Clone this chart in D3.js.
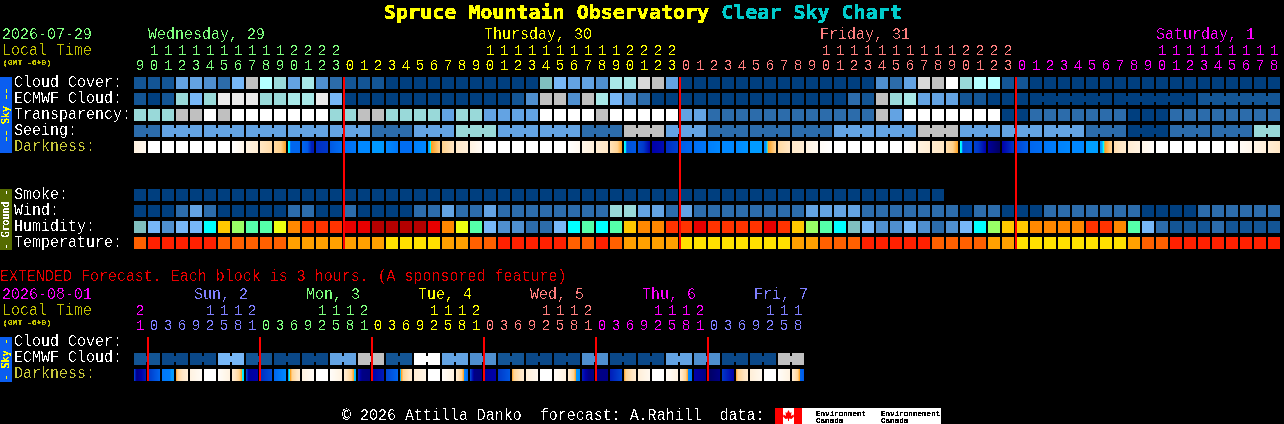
<!DOCTYPE html>
<html>
<head>
<meta charset="utf-8">
<title>Clear Sky Chart</title>
<script src="https://cdnjs.cloudflare.com/ajax/libs/d3/7.8.5/d3.min.js"></script>
<style>
    html, body { margin: 0; background: #000; overflow: hidden; }
    svg { display: block; }
    text { font-family: "Liberation Mono", monospace; font-size: 15px; white-space: pre; }
    rect, line { shape-rendering: crispEdges; }
</style>
</head>
<body>
<div id="chart"></div>
<script>
// Hourly forecast, one value per block
const hours = [9,10,11,12,13,14,15,16,17,18,19,20,21,22,23,
    0,1,2,3,4,5,6,7,8,9,10,11,12,13,14,15,16,17,18,19,20,21,22,23,
    0,1,2,3,4,5,6,7,8,9,10,11,12,13,14,15,16,17,18,19,20,21,22,23,
    0,1,2,3,4,5,6,7,8,9,10,11,12,13,14,15,16,17,18];
const cloudCover = [1,1,1,4,4,3,2,5,10,9,7,4,8,3,2,1,1,1,0,0,0,
    0,0,0,0,0,0,0,0,6,5,4,4,3,8,8,11,10,4,
    0,0,0,0,0,0,0,0,0,0,0,0,0,0,3,2,4,11,10,13,7,9,9,1,1,
    0,0,0,0,0,0,0,0,0,0,0,0,0,0,0,0,0,0];
const ecmwfCloud = [1,0,1,7,5,7,12,12,12,7,7,8,8,12,5,
    0,0,0,0,0,0,0,0,0,0,0,0,1,3,10,10,3,10,8,5,3,2,0,0,
    0,0,0,0,0,0,0,0,0,0,0,0,2,1,10,7,8,4,4,4,1,1,0,0,0,
    0,0,0,0,0,0,0,0,0,0,0,0,1,1,1,1,1,1];
const transparency = [7,7,7,10,10,13,10,13,13,13,13,13,13,13,7,7,10,10,7,7,7,
    7,4,7,7,4,4,4,4,13,13,13,13,10,13,13,13,13,13,4,4,
    2,2,2,2,2,2,2,2,2,2,2,2,10,4,13,13,13,13,13,13,13,0,0,
    2,2,2,2,2,2,2,0,0,0,2,2,2,2,2,2,2,2];
const seeing = [2,2,4,4,4,4,4,4,4,4,4,4,4,4,4,4,4,2,2,2,4,4,4,7,7,7,
    4,4,4,4,4,4,2,2,2,10,10,10,4,4,4,2,2,2,2,2,2,2,2,2,4,4,4,4,4,4,
    10,10,10,4,4,4,4,4,4,4,4,4,2,2,2,0,0,0,2,2,2,2,2,2,7,7];
const smoke = [0,0,0,0,0,0,0,0,0,0,0,0,0,0,0,0,0,0,0,0,0,0,0,0,0,0,0,0,0,
    0,0,0,0,0,0,0,0,0,0,0,0,0,0,0,0,0,0,0,0,0,0,0,0,0,0,0,0,0];
const wind = [0,0,0,2,4,2,0,0,0,0,0,2,2,0,0,2,0,0,0,0,2,
    2,4,2,2,4,2,2,2,2,2,2,2,2,7,7,4,4,2,4,2,2,2,2,2,2,2,2,4,4,4,4,
    2,2,2,2,2,2,2,0,2,2,0,0,0,2,2,2,2,2,2,2,0,0,0,0,2,2,2,2,2,2];
const humidity = [4,3,2,3,3,5,9,7,6,6,8,10,11,11,11,12,12,13,13,13,13,
    12,10,8,6,3,2,2,1,1,3,5,6,5,6,9,10,10,11,11,12,11,11,11,11,12,11,9,7,6,5,4,
    3,2,2,3,2,1,2,3,5,7,9,9,10,10,10,10,11,11,10,6,3,1,0,0,0,1,0,0,0,0];
const temperature = [1,0,0,0,0,0,1,1,1,1,1,2,2,2,2,2,2,2,3,3,3,
    3,2,2,1,1,0,0,0,0,0,1,1,0,1,2,2,2,2,3,3,3,3,3,3,3,3,2,2,1,1,1,
    0,0,0,0,0,1,1,1,1,2,2,3,3,3,3,3,3,3,3,2,1,1,0,0,0,0,0,0,0,0];

// Sun and moon curve for the darkness row: [block, level]
const darkness = [[0,1],[0.86,0.5],[1,0],[7,0],[7.86,0.7],[8,1],[8.86,1.5],[9,2],[9.86,2.5],[10,2.6],[10.5,3],[10.86,4],
    [11,5],[11.1,5],[11.2,8],[12,8],[12.4,8.3],[12.7,9.5],[12.86,9.5],[13,9.2],[13.86,9],[14,8.3],[14.86,7.8],
    [15,7.8],[15.86,7.5],[16,7],[16.86,7],[17,6.5],[17.86,6.5],[18,7],[18.86,7.5],[19,7.8],[19.86,7.8],[20,7.3],[20.86,7],
    [21,6.5],[21.1,6],[21.18,5],[21.25,4],[21.86,3],[22,3],[22.86,2],[23,1.8],[23.86,1.3],[24,1],[24.86,0.3],[25,0],
    [31,0],[31.86,0.5],[32,0.7],[32.86,1.2],[33,1.5],[33.86,2],[34,2.2],[34.5,2.8],[34.86,4],
    [35,5],[35.1,5],[35.2,8.5],[35.86,8.3],[36,8.6],[36.4,9],[36.86,10],[37,10],[37.86,9.8],[38,9.2],[38.86,8.8],
    [39,8.2],[39.86,8],[40,7.8],[40.86,7.5],[41,7.3],[41.86,7],[43,7],[43.86,6.6],[44,6.4],[44.86,6.4],
    [45,7],[45.15,6.5],[45.22,5],[45.3,4],[45.86,2.8],[46,2.6],[46.86,2],[47,1.8],[47.86,1.5],[48,1],[48.86,0.5],[49,0.3],[49.86,0],
    [55,0],[55.86,0.6],[56,1],[56.86,1.5],[57,1.6],[57.86,2],[58,2.4],[58.5,3],[58.86,4],
    [59,5],[59.1,5],[59.2,8.6],[59.86,8.4],[60,8.8],[60.3,9],[60.86,10],[61,10.2],[61.86,11],[62,10],[62.86,9],
    [63,8.7],[63.86,8.2],[64,8],[64.86,7.8],[65,7.6],[65.86,7.3],[66,7.2],[66.86,7],[67.86,7],[68,6.3],[68.86,6.3],
    [69,7],[69.15,6],[69.25,5],[69.35,4],[69.86,2.8],[70,2.4],[70.86,1.6],[71,1.5],[71.86,1],[72,0.7],[72.86,0.2],[73,0],
    [78.5,0],[79,0.3],[79.86,0.7],[80,0.8],[80.86,1.2],[81,1.4],[81.86,2]];

// Extended forecast, one value per 3 hour block
const extHours = [21,0,3,6,9,12,15,18,21,0,3,6,9,12,15,18,21,0,3,6,9,12,15,18,21,
    0,3,6,9,12,15,18,21,0,3,6,9,12,15,18,21,0,3,6,9,12,15,18];
const extEcmwf = [1,1,0.5,0.5,0.5,0.5,5,5,1,1,0.5,0.5,0.5,0.5,4,4,10,10,1,1,13,13,4,4,
    3,3,1,1,0.5,0.5,0.5,0.5,3,3,0.5,0.5,0.5,0.5,4,4,3,3,0.5,0.5,0.5,0.5,10,10];
const extDarkness = [[0,8.5],[0.2,10.5],[0.86,9.5],[1,9],[1.86,8],[2,7.5],[2.6,7.3],[2.62,6.4],[2.86,6.4],
    [3,4],[3.12,3],[3.3,2.3],[3.86,1.2],[4,1],[4.86,0.3],[5,0],[5.86,0],[6,0.2],[6.86,1],[7,1.5],[7.5,2.8],[7.7,4],[7.72,5],[7.86,5.5],
    [8,8.5],[8.2,10.2],[8.86,10],[9,9.2],[9.86,8.5],[10,8],[10.86,7],[11,7],[11.1,5],[11.18,4],[11.3,2.8],[11.86,1.5],
    [12,1],[12.86,0.3],[13,0],[13.86,0],[14,0.2],[14.86,1],[15,1.5],[15.5,2.8],[15.7,4],[15.72,5.5],[15.86,6],
    [16,9.5],[16.3,10.5],[16.86,10.6],[17,10],[17.86,9.5],[18,8.7],[18.86,8],[19,6.8],[19.1,4],[19.25,2.8],[19.86,1.6],
    [20,1.5],[20.86,0.8],[21,0],[21.86,0],[22,0.2],[22.86,1],[23,1.5],[23.4,2.8],[23.55,4],[23.6,7],[23.86,8],
    [24,8.5],[24.3,10.5],[24.86,10.6],[25,10.2],[25.86,10],[26,9],[26.86,8.3],[27,4],[27.15,2.8],[27.86,1.6],
    [28,1.3],[28.86,0.5],[29,0],[29.86,0],[30,0.2],[30.86,1],[31,1.5],[31.4,2.8],[31.55,4],[31.6,6.5],[31.86,7],
    [32,9.5],[32.5,10.5],[33.86,10.5],[34,9.5],[34.86,8.7],[35,4],[35.15,2.8],[35.86,1.6],
    [36,1.3],[36.86,0.5],[37,0],[37.86,0],[38,0.2],[38.86,1],[39,1.5],[39.4,2.8],[39.55,4],[39.6,7],[39.86,7.5],
    [40,10],[40.86,10.5],[41,11],[41.86,10.5],[42,9],[42.86,10],[43,4],[43.15,2.8],[43.86,1.6],
    [44,1.3],[44.86,0.5],[45,0],[45.86,0],[46,0.2],[46.86,1],[47,1.5],[47.4,2.8],[47.55,4],[47.6,8],[47.86,8.3]];

// Day headings
const dayLabels = ["Wednesday, 29", "Thursday, 30", "Friday, 31", "Saturday, 1"];
const dayColors = ["#7fff7f", "#ffff00", "#ff7f7f", "#ff00ff"];
const extDayLabels = ["", "Sun, 2", "Mon, 3", "Tue, 4", "Wed, 5", "Thu, 6", "Fri, 7"];
const extDayColors = ["#ff00ff", "#7f7fff", "#7fff7f", "#ffff00", "#ff7f7f", "#ff00ff", "#7f7fff"];

// Colour keys
const cloudKeys = [0, 0.5, 1, 2, 3, 4, 5, 6, 7, 8, 9, 10, 11, 12, 13];
const cloudColors = ["#003f7f", "#0a4888", "#135595", "#2c6cab", "#4f8fcf", "#63a3e3", "#77b7f7", "#80bfbf", "#99d9d9",
    "#a8e8e8", "#b3ffff", "#c0c0c0", "#d8d8d8", "#ebebeb", "#ffffff"];
const humidityColors = ["#135595", "#2c6cab", "#4f8fcf", "#77b7f7", "#80bfbf", "#00ffff", "#55ffaa", "#99ff66",
    "#eeff11", "#ffc800", "#ff8800", "#ff3300", "#e80000", "#b30000"];
const temperatureColors = ["#ff2000", "#ff6000", "#ffa000", "#ffe000"];
const darkKeys = [0, 1, 2, 3, 4, 5, 6, 7, 8, 9, 10, 11];
const darkColors = ["#ffffff", "#fff2e0", "#ffe6c4", "#ffd08a", "#ffa020", "#00ffff", "#00a8ff", "#0088ff", "#0066ee",
    "#0038c8", "#0000aa", "#000060"];

const cloudColor = d3.scaleOrdinal(cloudKeys, cloudColors);
const humidityColor = d3.scaleOrdinal(d3.range(14), humidityColors);
const temperatureColor = d3.scaleOrdinal(d3.range(4), temperatureColors);
const darkColor = d3.scaleLinear(darkKeys, darkColors);

const svg = d3.select("#chart").append("svg")
    .attr("width", 1284)
    .attr("height", 424);

// hard edged text like the original bitmap font
const defs = svg.append("defs");
function addCrispFilter(id, table) {
    const f = defs.append("filter")
        .attr("id", id)
        .attr("filterUnits", "userSpaceOnUse")
        .attr("x", 0).attr("y", 0).attr("width", 1284).attr("height", 424)
        .attr("color-interpolation-filters", "sRGB");
    f.append("feComponentTransfer").append("feFuncA")
        .attr("type", "discrete")
        .attr("tableValues", table);
}
addCrispFilter("crisp", "0 0 0 1 1");
addCrispFilter("crispSmall", "0 1 1 1 1");

const x = d3.scaleBand().domain(d3.range(hours.length)).range([134, 1280]).paddingInner(2 / 14);
const extX = d3.scaleBand().domain(d3.range(extHours.length)).range([134, 804]).paddingInner(2 / 14);

const rows = ["cloud", "ecmwf", "transparency", "seeing", "darkness", "gap1", "gap2", "smoke", "wind", "humidity", "temperature"];
const y = d3.scaleBand().domain(rows).range([77, 249]).paddingInner(0.25);
const extRows = ["cloud", "ecmwf", "darkness"];
const extY = d3.scaleBand().domain(extRows).range([337, 381]).paddingInner(0.25);

const marks = svg.append("g");
const texts = svg.append("g").attr("filter", "url(#crisp)");
const smallTexts = svg.append("g").attr("filter", "url(#crispSmall)");

function addText(parent, str, px, py, color, size, weight) {
    return parent.append("text")
        .attr("x", px)
        .attr("y", py)
        .attr("fill", color)
        .style("font-size", (size || 15) + "px")
        .style("font-weight", weight || "normal")
        .text(str);
}

// the 15px labels are stretched a little to reach the height of the bitmap font
function addLabel(str, px, py, color) {
    return texts.append("text")
        .attr("transform", `translate(${px},${py}) scale(1,1.1)`)
        .attr("fill", color)
        .text(str);
}

function drawRow(values, colorScale, scaleX, top, height, joinId) {
    const g = marks.append("g");
    g.selectAll("rect.cell")
        .data(values)
        .enter().append("rect")
            .attr("class", "cell")
            .attr("x", (d, i) => scaleX(i))
            .attr("y", top)
            .attr("width", scaleX.bandwidth())
            .attr("height", height)
            .attr("fill", d => colorScale(d));

    if (!joinId) return;
    // small bridge between blocks that share one forecast value
    const joined = d3.range(values.length - 1).filter(i => joinId(i) !== null && joinId(i) === joinId(i + 1));
    g.selectAll("rect.join")
        .data(joined)
        .enter().append("rect")
            .attr("class", "join")
            .attr("x", i => scaleX(i) + scaleX.bandwidth())
            .attr("y", top + 3)
            .attr("width", scaleX.step() - scaleX.bandwidth())
            .attr("height", height - 6)
            .attr("fill", i => colorScale(values[i]));
}

function drawDarkness(curve, count, scaleX, top, height) {
    const level = d3.scaleLinear(curve.map(d => d[0]), curve.map(d => d[1])).clamp(true);
    const bw = Math.round(scaleX.bandwidth());
    const step = Math.round(scaleX.step());
    const strips = d3.range(count).flatMap(c => d3.range(bw).map(i => ({c: c, i: i})));
    marks.append("g").selectAll("rect")
        .data(strips)
        .enter().append("rect")
            .attr("x", d => scaleX(d.c) + d.i)
            .attr("y", top)
            .attr("width", 1)
            .attr("height", height)
            .attr("fill", d => darkColor(level(d.c + (d.i + 0.5) / step)));
}

function drawMidnights(hourList, scaleX, top, bottom) {
    const cols = d3.range(hourList.length).filter(i => hourList[i] === 0);
    marks.append("g").selectAll("line")
        .data(cols)
        .enter().append("line")
            .attr("x1", c => scaleX(c))
            .attr("x2", c => scaleX(c))
            .attr("y1", top)
            .attr("y2", bottom)
            .attr("stroke", "#ff0000")
            .attr("stroke-width", 2);
}

function drawHourLabels(hourList, scaleX, colors, tensY, onesY) {
    let day = 0;
    hourList.forEach((h, i) => {
        if (h === 0 && i > 0) day++;
        const cx = scaleX(i) + 1.5;
        if (h >= 10) addText(texts, String(Math.floor(h / 10)), cx, tensY, colors[day]);
        addText(texts, String(h % 10), cx, onesY, colors[day]);
    });
}

function drawSideBar(label, color, textColor, top, bottom, size) {
    marks.append("rect")
        .attr("x", 0).attr("y", top)
        .attr("width", 12).attr("height", bottom - top)
        .attr("fill", color);
    smallTexts.append("text")
        .attr("transform", `translate(9,${(top + bottom) / 2}) rotate(-90)`)
        .attr("text-anchor", "middle")
        .attr("fill", textColor)
        .style("font-family", "'DejaVu Sans Mono'")
        .style("font-size", size + "px")
        .text(label);
}

// title
const title = addText(smallTexts, "", 384, 19, "#ffff00", 20, "bold").style("font-family", "'DejaVu Sans Mono'");
title.append("tspan").attr("fill", "#ffff00").text("Spruce Mountain Observatory ");
title.append("tspan").attr("fill", "#00cccc").text("Clear Sky Chart");

// top chart headings
addLabel("2026-07-29", 2, 39, "#7fff7f");
addLabel("Local Time", 2, 55, "#c0c000");
addText(smallTexts, "(GMT -6+0)", 3, 65, "#c0c000", 8);
const dayCols = d3.range(hours.length).filter(i => hours[i] === 10);
dayCols.forEach((c, i) => addLabel(dayLabels[i], x(c), 39, dayColors[i]));
drawHourLabels(hours, x, dayColors, 55, 70);

// top chart rows
const bh = y.bandwidth();
drawRow(cloudCover, cloudColor, x, y("cloud"), bh);
drawRow(ecmwfCloud, cloudColor, x, y("ecmwf"), bh, c => c >= 64 ? Math.floor((c - 64) / 6) : null);
drawRow(transparency, cloudColor, x, y("transparency"), bh);
drawRow(seeing, cloudColor, x, y("seeing"), bh, c => Math.floor((c + 1) / 3));
drawDarkness(darkness, hours.length, x, y("darkness"), bh);
drawRow(smoke, cloudColor, x, y("smoke"), bh);
drawRow(wind, cloudColor, x, y("wind"), bh);
drawRow(humidity, humidityColor, x, y("humidity"), bh);
drawRow(temperature, temperatureColor, x, y("temperature"), bh);
drawMidnights(hours, x, 77, 249);

drawSideBar("-- Sky --", "#0a5ef0", "#ffff00", 77, 153, 10);
drawSideBar("- Ground -", "#556b00", "#ffffff", 189, 250, 10);

const labelColor = "#ffffff";
const darkLabelColor = "#c8c83c";
[["Cloud Cover:", "cloud"], ["ECMWF Cloud:", "ecmwf"], ["Transparency:", "transparency"], ["Seeing:", "seeing"],
 ["Darkness:", "darkness"], ["Smoke:", "smoke"], ["Wind:", "wind"], ["Humidity:", "humidity"], ["Temperature:", "temperature"]]
    .forEach(d => addLabel(d[0], 14, y(d[1]) + 10, d[1] === "darkness" ? darkLabelColor : labelColor));

// extended forecast
addLabel("EXTENDED Forecast. Each block is 3 hours. (A sponsored feature)", 0, 281, "#e80000");
addLabel("2026-08-01", 2, 299, "#ff00ff");
addLabel("Local Time", 2, 315, "#c0c000");
addText(smallTexts, "(GMT -6+0)", 3, 325, "#c0c000", 8);
const extDayCols = d3.range(extHours.length).filter(i => extHours[i] === 9);
extDayCols.forEach((c, i) => addLabel(extDayLabels[i + 1], extX(c) + 4, 299, extDayColors[i + 1]));
drawHourLabels(extHours, extX, extDayColors, 315, 330);

drawRow(extEcmwf, cloudColor, extX, extY("ecmwf"), extY.bandwidth(), c => Math.floor(c / 2));
drawDarkness(extDarkness, extHours.length, extX, extY("darkness"), extY.bandwidth());
drawMidnights(extHours, extX, 337, 381);

drawSideBar("- Sky -", "#0a5ef0", "#ffff00", 337, 382, 10);
[["Cloud Cover:", "cloud"], ["ECMWF Cloud:", "ecmwf"], ["Darkness:", "darkness"]]
    .forEach(d => addLabel(d[0], 14, extY(d[1]) + 9, d[1] === "darkness" ? darkLabelColor : labelColor));

// footer and logo
addLabel("\u00a9 2026 Attilla Danko  forecast: A.Rahill  data:", 342, 420, "#ffffff");
const logo = svg.append("g");
logo.append("rect").attr("x", 775).attr("y", 408).attr("width", 166).attr("height", 16).attr("fill", "#ffffff");
logo.append("rect").attr("x", 775).attr("y", 408).attr("width", 8).attr("height", 16).attr("fill", "#ff0000");
logo.append("rect").attr("x", 794).attr("y", 408).attr("width", 8).attr("height", 16).attr("fill", "#ff0000");
logo.append("path")
    .attr("d", "M788.5 410l1.5 3 1.5-1-.5 4 2.5-1.5 .5 2-2.5 2.5-2.5-.5v2.5h-1v-2.5l-2.5 .5-2.5-2.5 .5-2 2.5 1.5-.5-4 1.5 1z")
    .attr("fill", "#ff0000");
const logoText = svg.append("g").attr("filter", "url(#crispSmall)");
addText(logoText, "Environment", 816, 416, "#000000", 7.6);
addText(logoText, "Canada", 816, 423, "#000000", 7.6);
addText(logoText, "Environnement", 881, 416, "#000000", 7.6);
addText(logoText, "Canada", 881, 423, "#000000", 7.6);
</script>
</body>
</html>
